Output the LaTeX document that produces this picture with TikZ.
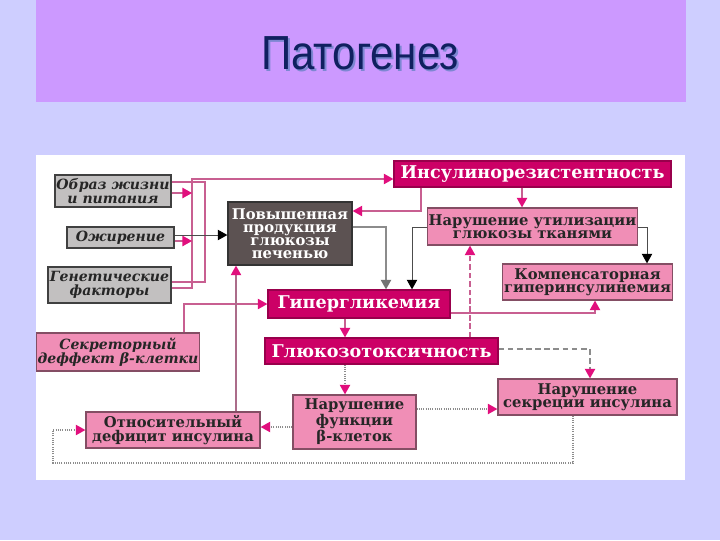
\documentclass[tikz,border=0pt]{standalone}
\usepackage{fontspec}
\setmainfont{DejaVu Serif}
\newfontfamily\titlefont[FakeStretch=0.88]{Liberation Sans}
\usepackage{tikz}
\usetikzlibrary{arrows.meta,positioning,calc}

\definecolor{slide}{RGB}{206,206,255}
\definecolor{band}{RGB}{204,153,255}
\definecolor{titleblue}{RGB}{16,32,96}
\definecolor{titleshade}{RGB}{125,135,210}
\definecolor{hotfill}{RGB}{204,0,102}
\definecolor{pinkfill}{RGB}{240,142,182}
\definecolor{greyfill}{RGB}{194,192,192}
\definecolor{darkfill}{RGB}{92,82,82}
\definecolor{linkpink}{RGB}{200,95,145}
\definecolor{tipmag}{RGB}{225,15,125}

\newlength\px
\setlength\px{0.025cm}

\begin{document}
\begin{tikzpicture}[x=0.025cm,y=-0.025cm,
  cell/.style={draw,line width=0.9pt,inner sep=1pt,align=center},
  hotcell/.style={cell,fill=hotfill,draw=hotfill!75!black,text=white,
    font=\bfseries\fontsize{12.5}{13}\selectfont},
  pinkcell/.style={cell,fill=pinkfill,draw=pinkfill!55!black,text=black!85,
    font=\bfseries\fontsize{10.5}{9.5}\selectfont},
  greycell/.style={cell,fill=greyfill,draw=black!75,text=black!85,
    font=\bfseries\itshape\fontsize{10}{10}\selectfont},
  darkcell/.style={cell,fill=darkfill,draw=black!80,text=white,
    font=\bfseries\fontsize{10.5}{9.2}\selectfont},
  tip/.style={-{Triangle[length=2.4mm,width=2.6mm,color=#1]}},
  magarr/.style={linkpink,line width=0.9pt,tip=tipmag},
  blkarr/.style={black!70,line width=0.7pt,tip=black},
  greyarr/.style={black!45,line width=0.9pt,tip=black!55},
  dotarr/.style={black!45,line width=0.9pt,dash pattern=on 0.7pt off 0.9pt,tip=tipmag},
  dasharr/.style={black!45,line width=0.9pt,dash pattern=on 4pt off 2.5pt,tip=tipmag},
  link/.style={linkpink,line width=0.9pt}]

  % slide, title band and white panel
  \fill[slide] (0,0) rectangle (720,540);
  \fill[band] (36,0) rectangle (686,102);
  \fill[white] (36,155) rectangle (685,480);
  \node[text=titleshade,font=\titlefont\fontsize{34}{36}\selectfont] (titleshadow) at (362,55) {Патогенез};
  \node[text=titleblue,font=\titlefont\fontsize{34}{36}\selectfont] (title) at (360,53) {Патогенез};

  % causes on the left
  \node[greycell,minimum width=116\px,minimum height=32\px] (obraz) at (113,191) {Образ жизни\\и питания};
  \node[greycell,minimum width=107\px,minimum height=21\px] (ozhir) at (120.5,237.5) {Ожирение};
  \node[greycell,minimum width=123\px,minimum height=36\px] (genet) at (109.5,285) {Генетические\\факторы};
  \node[pinkcell,font=\bfseries\itshape\fontsize{10}{10}\selectfont,minimum width=160\px,minimum height=38\px] (sekr) at (118,352) {Секреторный\\деффект β-клетки};

  % central chain
  \node[darkcell,minimum width=124\px,minimum height=63\px] (povysh) at (290,233.5) {Повышенная\\продукция\\глюкозы\\печенью};
  \node[hotcell,minimum width=277\px,minimum height=26\px] (insul) at (532.5,174) {Инсулинорезистентность};
  \node[pinkcell,minimum width=205\px,minimum height=37\px] (narutil) at (532.5,226.5) {Нарушение утилизации\\глюкозы тканями};
  \node[pinkcell,minimum width=169\px,minimum height=36\px] (komp) at (587.5,282) {Компенсаторная\\гиперинсулинемия};
  \node[hotcell,minimum width=182\px,minimum height=28\px] (gip) at (359,304) {Гипергликемия};
  \node[hotcell,minimum width=233\px,minimum height=26\px] (gluc) at (381.5,351) {Глюкозотоксичность};
  \node[pinkcell,minimum width=123\px,minimum height=54\px] (narfunk) at (354.5,422) {Нарушение\\функции\\β-клеток};
  \node[pinkcell,minimum width=179\px,minimum height=36\px] (narsekr) at (587.5,397) {Нарушение\\секреции инсулина};
  \node[pinkcell,minimum width=174\px,minimum height=36\px] (otnos) at (173,430) {Относительный\\дефицит инсулина};

  % buses behind the grey boxes
  \coordinate (busA) at (192,0);
  \coordinate (busB) at (205,0);
  \coordinate (loop) at (53,463);
  \draw[link] (obraz.east |- 0,182) -| (busB |- 0,282) -- (genet.east |- 0,282);
  \draw[magarr] (genet.east |- 0,288) -| (busA |- 0,179) -- (insul.west |- 0,179);
  \draw[magarr] (obraz.east |- 0,193) -- (busA |- 0,193);
  \draw[magarr] (ozhir.east |- 0,241) -- (busA |- 0,241);
  \draw[blkarr] (ozhir.east |- 0,235) -- (povysh.west |- 0,235);

  % upper links
  \draw[magarr] (insul.south -| 421,0) |- (povysh.east |- 0,211);
  \draw[greyarr] (povysh.east |- 0,227) -| (gip.north -| 386,0);
  \draw[blkarr] (narutil.west |- 0,227) -| (gip.north -| 412,0);
  \draw[magarr] (insul.south -| 522,0) -- (narutil.north -| 522,0);
  \draw[blkarr] (narutil.east |- 0,227) -| (komp.north -| 647,0);
  \draw[magarr] (gip.east |- 0,313) -| (komp.south -| 595,0);
  \draw[magarr,dash pattern=on 4pt off 2pt] (gluc.north -| 470,0) -- (narutil.south -| 470,0);
  \draw[magarr] (sekr.north -| 184,0) |- (gip.west |- 0,304);
  \draw[magarr,linkpink!60!gray] (otnos.north -| 236,0) -- (povysh.south -| 236,0);

  % lower links
  \draw[magarr] (gip.south -| 345,0) -- (gluc.north -| 345,0);
  \draw[dotarr] (gluc.south -| 345,0) -- (narfunk.north -| 345,0);
  \draw[dasharr] (gluc.east |- 0,349) -| (narsekr.north -| 590,0);
  \draw[dotarr] (narfunk.east |- 0,409) -- (narsekr.west |- 0,409);
  \draw[dotarr] (narfunk.west |- 0,427) -- (otnos.east |- 0,427);
  \draw[dotarr] (narsekr.south -| 573,0) |- (loop) |- (otnos.west |- 0,430);
\end{tikzpicture}
\end{document}
